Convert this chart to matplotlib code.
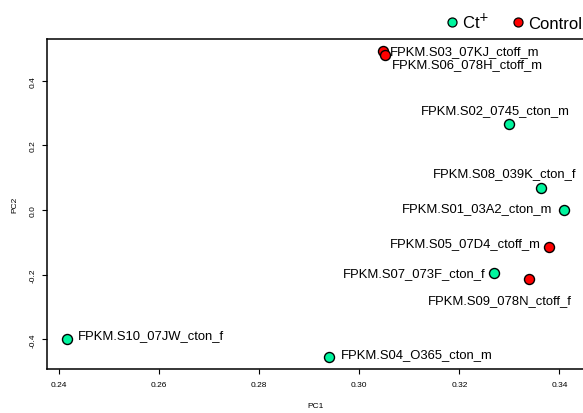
import matplotlib
matplotlib.use("Agg")
import matplotlib.pyplot as plt
from matplotlib.lines import Line2D

plt.rcParams['font.family'] = ['Liberation Sans', 'DejaVu Sans']

samples = ["FPKM.S03_07KJ_ctoff_m", "FPKM.S06_078H_ctoff_m", "FPKM.S02_0745_cton_m",
           "FPKM.S08_039K_cton_f", "FPKM.S01_03A2_cton_m", "FPKM.S05_07D4_ctoff_m",
           "FPKM.S07_073F_cton_f", "FPKM.S09_078N_ctoff_f", "FPKM.S10_07JW_cton_f",
           "FPKM.S04_O365_cton_m"]
pc1 = [0.3048, 0.3051, 0.3299, 0.3363, 0.3409, 0.3379, 0.3269, 0.3339, 0.2416, 0.2939]
pc2 = [0.491, 0.481, 0.2655, 0.0686, 0.001, -0.113, -0.196, -0.215, -0.400, -0.454]
group = ["Control", "Control", "Ct+", "Ct+", "Ct+", "Control", "Ct+", "Control", "Ct+", "Ct+"]

colors = {"Ct+": "#00F59E", "Control": "#FF0000"}

# label placement: (dx, dy) in pixels, horizontal alignment
label_pos = [(7, 0, "left"), (7, -10, "left"), (-14, 14, "center"), (-36, 15, "center"),
             (-12, 2, "right"), (-8, 3, "right"), (-8, 0, "right"), (-29, -21, "center"),
             (11, 4, "left"), (12, 3, "left")]

W, H = 583, 414
fig = plt.figure(figsize=(W / 100, H / 100), dpi=100)
ax_l, ax_r, ax_t, ax_b = 47, 584, 40, 370
ax = fig.add_axes([ax_l / W, 1 - ax_b / H, (ax_r - ax_l) / W, (ax_b - ax_t) / H])

for x, y, g in zip(pc1, pc2, group):
    ax.scatter(x, y, s=52, c=colors[g], edgecolors="black", linewidths=1.0, zorder=3)

for x, y, name, (dx, dy, ha) in zip(pc1, pc2, samples, label_pos):
    ax.annotate(name, (x, y), xytext=(dx, dy), textcoords="offset pixels",
                ha=ha, va="center", fontsize=9.4, color="black")

ax.set_xlim(0.2376, 0.3449)
ax.set_ylim(-0.492, 0.529)
ax.set_xticks([0.24, 0.26, 0.28, 0.30, 0.32, 0.34])
ax.set_xticklabels(["0.24", "0.26", "0.28", "0.30", "0.32", "0.34"])
ax.set_yticks([-0.4, -0.2, 0.0, 0.2, 0.4])
ax.set_yticklabels(["-0.4", "-0.2", "0.0", "0.2", "0.4"], rotation=90, va="center")
ax.tick_params(axis="x", labelsize=6, length=3.6, width=0.8, pad=5)
ax.tick_params(axis="y", labelsize=6, length=3.6, width=0.8, pad=4)
for s in ax.spines.values():
    s.set_linewidth(1.1)
ax.set_xlabel("PC1", fontsize=6, labelpad=10)
ax.set_ylabel("PC2", fontsize=6, labelpad=8)

handles = [Line2D([], [], marker="o", linestyle="none", markersize=6.5,
                  markerfacecolor=colors[g], markeredgecolor="black", markeredgewidth=0.9)
           for g in ("Ct+", "Control")]
fig.legend(handles, ["Ct$^{+}$", "Control"], loc="upper right",
           bbox_to_anchor=(1.012, 0.99), ncol=2, frameon=False, fontsize=12,
           handletextpad=0.28, columnspacing=1.42, borderaxespad=0.1, handlelength=0.6)

fig.savefig("out.png", dpi=100)
